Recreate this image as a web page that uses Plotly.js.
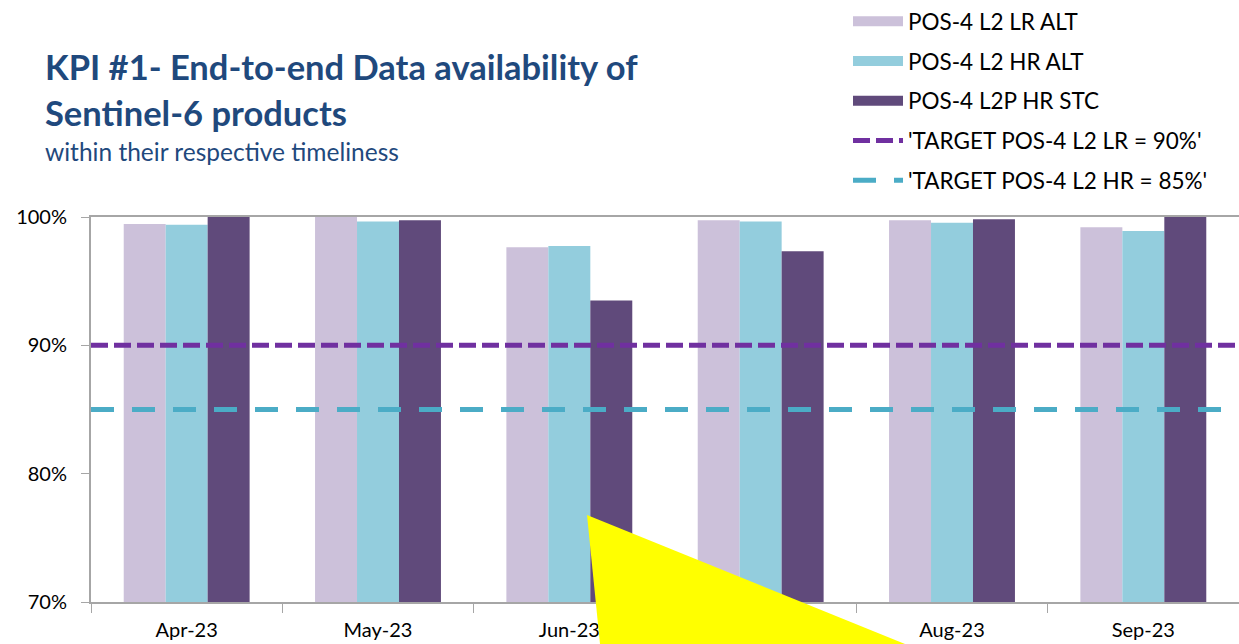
<!DOCTYPE html>
<html>
<head>
<meta charset="utf-8">
<script src="https://cdn.plot.ly/plotly-3.0.1.min.js"></script>
<style>html,body{margin:0;padding:0;background:#fff;}#chart{width:1239px;height:644px;}</style>
</head>
<body>
<div id="chart"></div>
<script>
const months = ["Apr-23", "May-23", "Jun-23", "Jul-23", "Aug-23", "Sep-23"];
const lrAlt = [99.45, 100.0, 97.64, 99.74, 99.74, 99.2];
const hrAlt = [99.4, 99.65, 97.74, 99.65, 99.56, 98.9];
const hrStc = [100.0, 99.74, 93.5, 97.33, 99.82, 100.0];
const targetLR = 90;
const targetHR = 85;
const seriesNames = ["POS-4 L2 LR ALT", "POS-4 L2 HR ALT", "POS-4 L2P HR STC",
  "'TARGET POS-4 L2 LR = 90%'", "'TARGET POS-4 L2 HR = 85%'"];
const barColors = ["#CCC1DA", "#93CDDD", "#604A7B"];
const yTicks = [70, 80, 90, 100];
const yTickText = ["70%", "80%", "90%", "100%"];

const FONT = "Lato, 'Liberation Sans', sans-serif";
const barSeries = [lrAlt, hrAlt, hrStc];

const traces = [];
barSeries.forEach((vals, i) => {
  traces.push({type: "bar", x: months, y: vals, name: seriesNames[i],
    legendgroup: "g" + i, showlegend: false,
    marker: {color: barColors[i]}, hoverinfo: "skip"});
});
// legend swatches (wide rectangles like the original legend)
barSeries.forEach((vals, i) => {
  traces.push({type: "scatter", mode: "lines", x: [null], y: [null], name: seriesNames[i],
    legendgroup: "g" + i, legendrank: i + 1,
    line: {color: barColors[i], width: 15}, hoverinfo: "skip"});
});
traces.push({type: "scatter", mode: "lines", xaxis: "x2", x: [0, 1], y: [targetLR, targetLR],
  name: seriesNames[3], legendgroup: "g3", legendrank: 4,
  line: {color: "#7030A0", width: 5, dash: "17px,6px"}, hoverinfo: "skip"});
traces.push({type: "scatter", mode: "lines", xaxis: "x2", x: [0, 1], y: [targetHR, targetHR],
  name: seriesNames[4], legendgroup: "g4", legendrank: 5,
  line: {color: "#4BACC6", width: 5, dash: "23px,18px"}, hoverinfo: "skip"});

// pixel helpers for decorative shapes / text placement (paper coords)
const L = 91, R = 1239, T = 217, B = 602;
const px = v => (v - L) / (R - L);
const py = v => (B - v) / (B - T);

const layout = {
  width: 1239, height: 644,
  margin: {l: 91, r: 0, t: 217, b: 42},
  paper_bgcolor: "#ffffff", plot_bgcolor: "#ffffff",
  font: {family: FONT, size: 18, color: "#000000"},
  barmode: "group", bargap: 0.342, bargroupgap: 0,
  showlegend: true,
  title: {
    text: "<b>KPI #1- End-to-end Data availability of</b>",
    font: {family: FONT, size: 34.5, color: "#1F497D"},
    x: 45 / 1239, xanchor: "left", xref: "container",
    y: 1 - 80 / 644, yanchor: "bottom", yref: "container"
  },
  annotations: [
    {text: "<b>Sentinel-6 products</b>", xref: "paper", yref: "paper",
     x: px(43), y: py(135), xanchor: "left", yanchor: "bottom", showarrow: false,
     font: {family: FONT, size: 34.5, color: "#1F497D"}},
    {text: "within their respective timeliness", xref: "paper", yref: "paper",
     x: px(43), y: py(168), xanchor: "left", yanchor: "bottom", showarrow: false,
     font: {family: FONT, size: 24.5, color: "#1F497D"}}
  ],
  legend: {
    x: px(848), xanchor: "left", y: 1, yref: "container", yanchor: "top",
    font: {family: FONT, size: 22.5, color: "#000000"},
    bgcolor: "rgba(0,0,0,0)", traceorder: "grouped", tracegroupgap: 7.5,
    itemwidth: 50
  },
  xaxis: {
    type: "category", showgrid: false, zeroline: false,
    showline: true, linecolor: "#A6A6A6", linewidth: 2, mirror: true,
    ticks: "outside", tickson: "boundaries", ticklen: 9, tickcolor: "#A6A6A6",
    tickfont: {family: FONT, size: 20, color: "#000000"}, ticklabelstandoff: 9
  },
  xaxis2: {overlaying: "x", range: [0, 1], visible: false, fixedrange: true},
  yaxis: {
    range: [70, 100], tickvals: yTicks, ticktext: yTickText,
    showgrid: false, zeroline: false,
    showline: true, linecolor: "#A6A6A6", linewidth: 2,
    ticks: "outside", ticklen: 8, tickcolor: "#A6A6A6",
    tickfont: {family: FONT, size: 20, color: "#000000"}, ticklabelstandoff: 10
  },
  shapes: [
    {type: "path", xref: "paper", yref: "paper", layer: "above",
     path: "M " + px(587) + "," + py(515) + " L " + px(600) + "," + py(644) +
           " L " + px(905) + "," + py(644) + " Z",
     fillcolor: "#FFFF00", line: {width: 0}}
  ]
};

Plotly.newPlot("chart", traces, layout, {displayModeBar: false, staticPlot: true});
</script>
</body>
</html>
